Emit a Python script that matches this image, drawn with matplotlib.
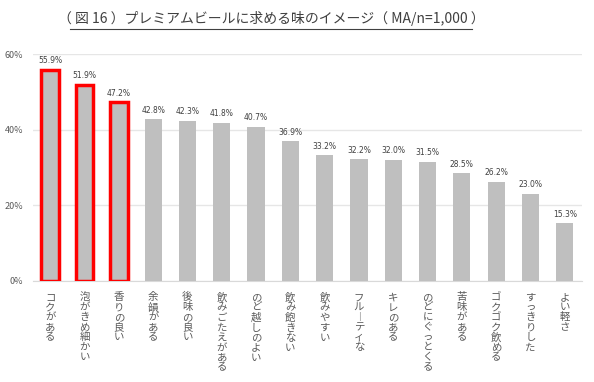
import matplotlib
matplotlib.use("Agg")
import matplotlib.pyplot as plt

plt.rcParams['font.family'] = ['Noto Sans CJK JP', 'DejaVu Sans']

categories = ["コクがある", "泡がきめ細かい", "香りの良い", "余韻がある", "後味の良い",
              "飲みごたえがある", "のど越しのよい", "飲み飽きない", "飲みやすい", "フルーティな",
              "キレのある", "のどにぐっとくる", "苦味がある", "ゴクゴク飲める", "すっきりした", "よい軽さ"]
values = [55.9, 51.9, 47.2, 42.8, 42.3, 41.8, 40.7, 36.9, 33.2, 32.2, 32.0, 31.5, 28.5, 26.2, 23.0, 15.3]
highlight = [True, True, True] + [False] * 13
yticks = [0, 20, 40, 60]
title = "（ 図 16 ）プレミアムビールに求める味のイメージ（ MA/n=1,000 ）"

fig = plt.figure(figsize=(5.94, 3.82), dpi=100)
ax = fig.add_axes([33/594, 1-281/382, 549/594, (281-54)/382])

x = list(range(len(categories)))
for i, (v, h) in enumerate(zip(values, highlight)):
    if h:
        ax.bar(i, v, width=0.52, color="#bfbfbf", edgecolor="#ff0000", linewidth=2.5, zorder=3)
    else:
        ax.bar(i, v, width=0.5, color="#bfbfbf", edgecolor="none", zorder=3)
    ax.text(i, v + 1.2, f"{v:.1f}%", ha="center", va="bottom", fontsize=5.5,
            color="#404040", family=['DejaVu Sans'])

ax.set_xlim(-0.5, len(categories) - 0.5)
ax.set_ylim(0, 60)
ax.set_yticks(yticks)
ax.set_yticklabels([f"{t}%" for t in yticks], fontsize=6.5, color="#595959")
ax.yaxis.grid(True, color="#e6e6e6", linewidth=1, zorder=0)
ax.tick_params(axis="y", length=0, pad=7)
ax.set_xticks(x)
ax.set_xticklabels([])
ax.tick_params(axis="x", length=0)
for s in ["top", "right", "left"]:
    ax.spines[s].set_visible(False)
ax.spines["bottom"].set_color("#d9d9d9")
ax.set_axisbelow(True)

for i, c in enumerate(categories):
    vert = "\n".join(ch if ch != "ー" else "︱" for ch in c)
    ax.text(i, -3, vert, ha="center", va="top", fontsize=7.5, color="#595959",
            linespacing=1.0, transform=ax.transData, clip_on=False)

fig.text(271/594, 1-18/382, title, ha="center", va="center", fontsize=10, color="#404040")
fig.add_artist(plt.Line2D([70/594, 472/594], [1-29/382, 1-29/382], color="#404040", linewidth=0.8))

fig.savefig("out.png", dpi=100)
